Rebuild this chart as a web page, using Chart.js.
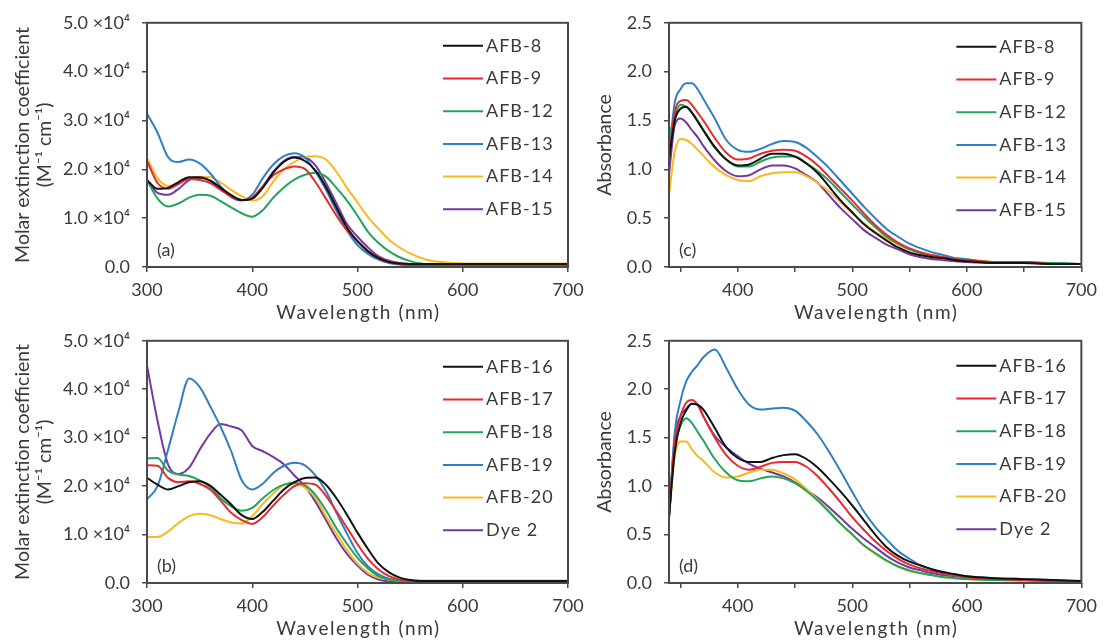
<!DOCTYPE html>
<html><head><meta charset="utf-8">
<script src="https://cdn.jsdelivr.net/npm/chart.js@4/dist/chart.umd.min.js"></script>
<style>
html,body{margin:0;padding:0;background:#fff;}
body{width:1104px;height:641px;position:relative;overflow:hidden;}
canvas{position:absolute;}
</style></head><body>
<canvas id="ca" width="592" height="330" style="left:0;top:0"></canvas>
<canvas id="cc" width="514" height="330" style="left:590px;top:0"></canvas>
<canvas id="cb" width="592" height="323" style="left:0;top:318px"></canvas>
<canvas id="cd" width="514" height="323" style="left:590px;top:318px"></canvas>
<script>
// ---------- data ----------
// wavelengths (nm) for panels (a) and (b)
const wlAB = [300,310,320,330,340,350,360,370,380,390,400,410,420,430,440,450,460,470,480,490,500,510,520,530,540,550,560,570,580,590,600,650,700];
// wavelengths (nm) for panels (c) and (d)
const wlCD = [340,345,350,355,360,365,370,380,390,400,410,420,430,440,450,460,470,480,490,500,510,520,530,540,550,560,570,580,590,600,625,650,675,700];

// panel (a): molar extinction coefficient, units of 10^4 M^-1 cm^-1
const aAFB8  = [1.78,1.60,1.62,1.74,1.84,1.84,1.77,1.62,1.47,1.37,1.40,1.62,1.93,2.15,2.24,2.17,1.98,1.64,1.22,0.81,0.53,0.32,0.18,0.10,0.07,0.06,0.06,0.06,0.06,0.06,0.06,0.06,0.06];
const aAFB9  = [2.17,1.72,1.60,1.70,1.80,1.78,1.72,1.58,1.44,1.37,1.42,1.65,1.88,2.00,2.06,2.01,1.74,1.40,1.05,0.75,0.53,0.33,0.19,0.11,0.06,0.04,0.03,0.03,0.03,0.03,0.03,0.03,0.03];
const aAFB12 = [1.78,1.40,1.24,1.30,1.42,1.48,1.46,1.35,1.22,1.10,1.03,1.16,1.42,1.63,1.79,1.89,1.93,1.85,1.62,1.36,1.05,0.72,0.49,0.32,0.20,0.12,0.07,0.05,0.04,0.04,0.04,0.04,0.04];
const aAFB13 = [3.14,2.75,2.25,2.15,2.20,2.12,1.92,1.65,1.43,1.36,1.48,1.82,2.10,2.27,2.33,2.24,1.95,1.58,1.15,0.75,0.45,0.27,0.15,0.08,0.05,0.03,0.03,0.03,0.03,0.03,0.03,0.03,0.03];
const aAFB14 = [2.23,1.82,1.66,1.72,1.82,1.85,1.84,1.73,1.58,1.45,1.36,1.45,1.75,2.00,2.15,2.25,2.27,2.20,1.95,1.62,1.32,1.02,0.78,0.56,0.40,0.28,0.19,0.13,0.10,0.08,0.07,0.07,0.07];
const aAFB15 = [1.78,1.52,1.48,1.60,1.78,1.82,1.77,1.62,1.46,1.37,1.40,1.65,1.95,2.17,2.25,2.24,2.08,1.72,1.30,0.88,0.62,0.40,0.22,0.13,0.08,0.06,0.05,0.05,0.05,0.05,0.05,0.05,0.05];

// panel (b): molar extinction coefficient, units of 10^4 M^-1 cm^-1
const bAFB16 = [2.17,2.03,1.93,2.00,2.08,2.10,2.01,1.82,1.62,1.40,1.32,1.47,1.70,1.93,2.08,2.17,2.18,2.03,1.75,1.41,1.04,0.70,0.40,0.22,0.11,0.06,0.04,0.04,0.04,0.04,0.04,0.04,0.04];
const bAFB17 = [2.43,2.42,2.17,2.08,2.10,2.05,1.93,1.70,1.45,1.30,1.22,1.36,1.60,1.82,2.00,2.06,2.03,1.80,1.48,1.14,0.80,0.50,0.28,0.14,0.07,0.05,0.04,0.04,0.04,0.04,0.04,0.04,0.04];
const bAFB18 = [2.57,2.58,2.32,2.24,2.21,2.12,1.98,1.75,1.58,1.49,1.55,1.75,1.92,2.03,2.07,2.02,1.82,1.50,1.13,0.81,0.52,0.30,0.14,0.07,0.04,0.04,0.04,0.04,0.04,0.04,0.04,0.04,0.04];
const bAFB19 = [1.73,2.00,2.75,3.55,4.22,4.05,3.65,3.22,2.72,2.12,1.93,2.05,2.27,2.42,2.48,2.43,2.22,1.90,1.45,1.02,0.62,0.34,0.18,0.09,0.05,0.03,0.03,0.03,0.03,0.03,0.03,0.03,0.03];
const bAFB20 = [0.95,0.95,1.06,1.24,1.38,1.43,1.40,1.32,1.25,1.23,1.38,1.63,1.85,2.02,2.05,1.97,1.76,1.38,1.02,0.68,0.40,0.21,0.11,0.07,0.05,0.05,0.05,0.05,0.05,0.05,0.05,0.05,0.05];
const bDye2  = [4.49,3.35,2.45,2.25,2.38,2.75,3.08,3.28,3.23,3.15,2.83,2.72,2.60,2.45,2.22,2.00,1.68,1.30,0.92,0.60,0.36,0.17,0.07,0.03,0.01,0,0,0,0,0,0,0,0];

// panel (c): absorbance
const cAFB8  = [1.10,1.50,1.62,1.64,1.58,1.49,1.40,1.23,1.10,1.04,1.05,1.11,1.16,1.16,1.13,1.06,0.96,0.82,0.68,0.56,0.44,0.35,0.27,0.20,0.15,0.12,0.10,0.09,0.07,0.06,0.04,0.04,0.03,0.03];
const cAFB9  = [1.10,1.58,1.70,1.71,1.66,1.58,1.50,1.32,1.17,1.10,1.11,1.16,1.19,1.20,1.19,1.13,1.04,0.92,0.80,0.68,0.55,0.43,0.33,0.25,0.19,0.15,0.12,0.10,0.08,0.07,0.05,0.05,0.03,0.03];
const cAFB12 = [1.32,1.55,1.66,1.64,1.58,1.50,1.40,1.22,1.10,1.03,1.03,1.08,1.12,1.13,1.13,1.06,0.98,0.88,0.76,0.64,0.52,0.41,0.31,0.24,0.18,0.14,0.11,0.09,0.08,0.07,0.05,0.04,0.04,0.03];
const cAFB13 = [1.15,1.68,1.82,1.88,1.88,1.82,1.72,1.52,1.30,1.20,1.18,1.21,1.26,1.29,1.28,1.22,1.12,1.01,0.88,0.75,0.62,0.50,0.39,0.31,0.24,0.19,0.15,0.12,0.09,0.08,0.04,0.05,0.04,0.03];
const cAFB14 = [0.74,1.18,1.31,1.30,1.26,1.20,1.14,1.02,0.94,0.89,0.88,0.93,0.96,0.97,0.97,0.93,0.86,0.77,0.66,0.55,0.45,0.36,0.29,0.23,0.18,0.15,0.12,0.10,0.09,0.08,0.05,0.04,0.04,0.03];
const cAFB15 = [0.95,1.45,1.52,1.48,1.40,1.33,1.24,1.09,0.98,0.93,0.94,1.00,1.04,1.04,1.01,0.94,0.86,0.73,0.60,0.49,0.38,0.30,0.23,0.18,0.13,0.10,0.08,0.07,0.06,0.05,0.04,0.04,0.03,0.03];

// panel (d): absorbance
const dAFB16 = [0.68,1.35,1.65,1.78,1.85,1.84,1.79,1.60,1.40,1.29,1.25,1.25,1.29,1.32,1.33,1.28,1.19,1.07,0.94,0.80,0.65,0.50,0.37,0.28,0.22,0.18,0.14,0.11,0.09,0.07,0.05,0.04,0.03,0.02];
const dAFB17 = [0.68,1.45,1.72,1.86,1.89,1.84,1.72,1.50,1.32,1.21,1.17,1.20,1.24,1.25,1.25,1.20,1.10,0.97,0.83,0.68,0.55,0.43,0.33,0.25,0.19,0.15,0.12,0.10,0.08,0.06,0.04,0.03,0.02,0.01];
const dAFB18 = [0.68,1.40,1.62,1.70,1.65,1.56,1.47,1.28,1.14,1.06,1.05,1.08,1.10,1.08,1.03,0.95,0.85,0.73,0.61,0.50,0.39,0.31,0.23,0.17,0.13,0.10,0.08,0.06,0.05,0.04,0.03,0.03,0.02,0.01];
const dAFB19 = [0.68,1.55,1.88,2.08,2.18,2.25,2.33,2.41,2.22,2.00,1.84,1.79,1.80,1.81,1.78,1.67,1.53,1.35,1.15,0.94,0.74,0.58,0.45,0.33,0.25,0.18,0.14,0.11,0.08,0.07,0.05,0.04,0.03,0.01];
const dAFB20 = [0.68,1.30,1.46,1.46,1.38,1.31,1.26,1.14,1.09,1.10,1.14,1.17,1.17,1.13,1.07,0.97,0.86,0.74,0.61,0.50,0.39,0.30,0.23,0.17,0.12,0.10,0.08,0.06,0.05,0.04,0.03,0.02,0.02,0.01];
const dDye2  = [0.68,1.50,1.72,1.80,1.85,1.84,1.72,1.52,1.40,1.31,1.23,1.18,1.14,1.10,1.04,0.96,0.88,0.78,0.67,0.56,0.46,0.37,0.28,0.21,0.16,0.13,0.10,0.08,0.06,0.05,0.03,0.03,0.02,0.01];

const namesTop = ['AFB-8','AFB-9','AFB-12','AFB-13','AFB-14','AFB-15'];
const namesBottom = ['AFB-16','AFB-17','AFB-18','AFB-19','AFB-20','Dye 2'];
const colors = ['#111111','#e8292f','#22a45c','#2f7fc2','#f8b91e','#7538a0'];

// ---------- styling ----------
const FONT = 'Lato';
const TEXT = '#3a3a3a';
const AXIS = '#4a4a4a';

const panelPlugin = {
  id: 'panelPlugin',
  afterDatasetsDraw(chart, args, opts) {
    const ctx = chart.ctx, a = chart.chartArea;
    ctx.save();
    ctx.strokeStyle = AXIS; ctx.lineWidth = 2;
    ctx.strokeRect(a.left, a.top, a.right - a.left, a.bottom - a.top);
    ctx.fillStyle = TEXT;
    ctx.textBaseline = 'middle';
    // legend
    ctx.font = '18px ' + FONT;
    ctx.letterSpacing = '1px';
    ctx.textAlign = 'left';
    chart.data.datasets.forEach((ds, i) => {
      const y = a.top + opts.legendTop + i * opts.legendGap;
      ctx.strokeStyle = ds.borderColor; ctx.lineWidth = 2;
      ctx.beginPath(); ctx.moveTo(a.right - 125, y); ctx.lineTo(a.right - 85, y); ctx.stroke();
      ctx.fillText(ds.label, a.right - 82, y);
    });
    // panel tag
    ctx.font = '18px ' + FONT;
    ctx.letterSpacing = '0px';
    ctx.fillText(opts.tag, a.left + 10, a.bottom - 17);
    // x-axis title (letter-spaced)
    ctx.font = '19px ' + FONT;
    ctx.letterSpacing = '1.6px';
    ctx.textAlign = 'center';
    ctx.fillText(opts.xTitle, (a.left + a.right) / 2 + 1, opts.xTitleY);
    ctx.restore();
  }
};

function makePanel(id, wl, series, names, cfg) {
  const datasets = series.map((s, i) => ({
    label: names[i],
    data: s.map((v, j) => ({x: wl[j], y: v})),
    borderColor: colors[i],
    borderWidth: 2,
    pointRadius: 0,
    cubicInterpolationMode: 'monotone',
    fill: false
  }));
  return new Chart(document.getElementById(id), {
    type: 'line',
    data: {datasets},
    plugins: [panelPlugin],
    options: {
      responsive: false,
      animation: false,
      devicePixelRatio: 1,
      events: [],
      layout: {padding: {left: 0, top: cfg.padTop, right: cfg.padRight, bottom: 0}},
      plugins: {
        legend: {display: false},
        tooltip: {enabled: false},
        panelPlugin: {tag: cfg.tag, legendTop: cfg.legendTop, legendGap: 32.7,
                      xTitle: 'Wavelength (nm)', xTitleY: cfg.xTitleY}
      },
      scales: {
        x: {
          type: 'linear',
          min: cfg.xMin, max: 700,
          afterFit: s => { s.height = cfg.xH; },
          border: {display: false},
          grid: {display: true, drawOnChartArea: false, drawTicks: true, tickLength: 5, color: AXIS, lineWidth: 1.5},
          ticks: {
            stepSize: cfg.xStep, autoSkip: false, includeBounds: false, maxRotation: 0, minRotation: 0,
            padding: 7, color: TEXT, font: {family: FONT, size: 18},
            callback: v => (v % 100 === 0 ? String(v) : '')
          },
          title: {display: false}
        },
        y: {
          min: 0, max: cfg.yMax,
          afterFit: s => { s.width = cfg.yW; },
          border: {display: false},
          grid: {display: true, drawOnChartArea: false, drawTicks: true, tickLength: 5, color: AXIS, lineWidth: 1.5},
          ticks: {stepSize: cfg.yStep, padding: 12, color: TEXT, font: {family: FONT, size: 18}, callback: cfg.yFmt},
          title: {display: true, text: cfg.yTitle, color: TEXT, font: {family: FONT, size: 19.5, lineHeight: '22px'},
                  padding: {top: cfg.yTitlePad, bottom: 0}}
        }
      }
    }
  });
}

const fmtE = v => (v === 0 ? '0.0' : v.toFixed(1) + ' \u00d710\u2074');
const fmtA = v => v.toFixed(1);
const titleE = ['Molar extinction coefficient', '(M\u207b\u00b9 cm\u207b\u00b9)'];

makePanel('ca', wlAB, [aAFB8, aAFB9, aAFB12, aAFB13, aAFB14, aAFB15], namesTop,
  {tag: '(a)', padTop: 20, padRight: 24, yW: 147, xH: 63, xMin: 300, xStep: 100, yMax: 5, yStep: 1,
   yFmt: fmtE, yTitle: titleE, yTitlePad: 12, xTitleY: 313, legendTop: 23});
makePanel('cc', wlCD, [cAFB8, cAFB9, cAFB12, cAFB13, cAFB14, cAFB15], namesTop,
  {tag: '(c)', padTop: 21, padRight: 15, yW: 79, xH: 63, xMin: 340, xStep: 50, yMax: 2.5, yStep: 0.5,
   yFmt: fmtA, yTitle: 'Absorbance', yTitlePad: 4, xTitleY: 313, legendTop: 24});
makePanel('cb', wlAB, [bAFB16, bAFB17, bAFB18, bAFB19, bAFB20, bDye2], namesBottom,
  {tag: '(b)', padTop: 18, padRight: 24, yW: 147, xH: 58, xMin: 300, xStep: 100, yMax: 5, yStep: 1,
   yFmt: fmtE, yTitle: titleE, yTitlePad: 12, xTitleY: 311, legendTop: 26});
makePanel('cd', wlCD, [dAFB16, dAFB17, dAFB18, dAFB19, dAFB20, dDye2], namesBottom,
  {tag: '(d)', padTop: 19, padRight: 15, yW: 79, xH: 58, xMin: 340, xStep: 50, yMax: 2.5, yStep: 0.5,
   yFmt: fmtA, yTitle: 'Absorbance', yTitlePad: 4, xTitleY: 311, legendTop: 25});
</script>
</body></html>
